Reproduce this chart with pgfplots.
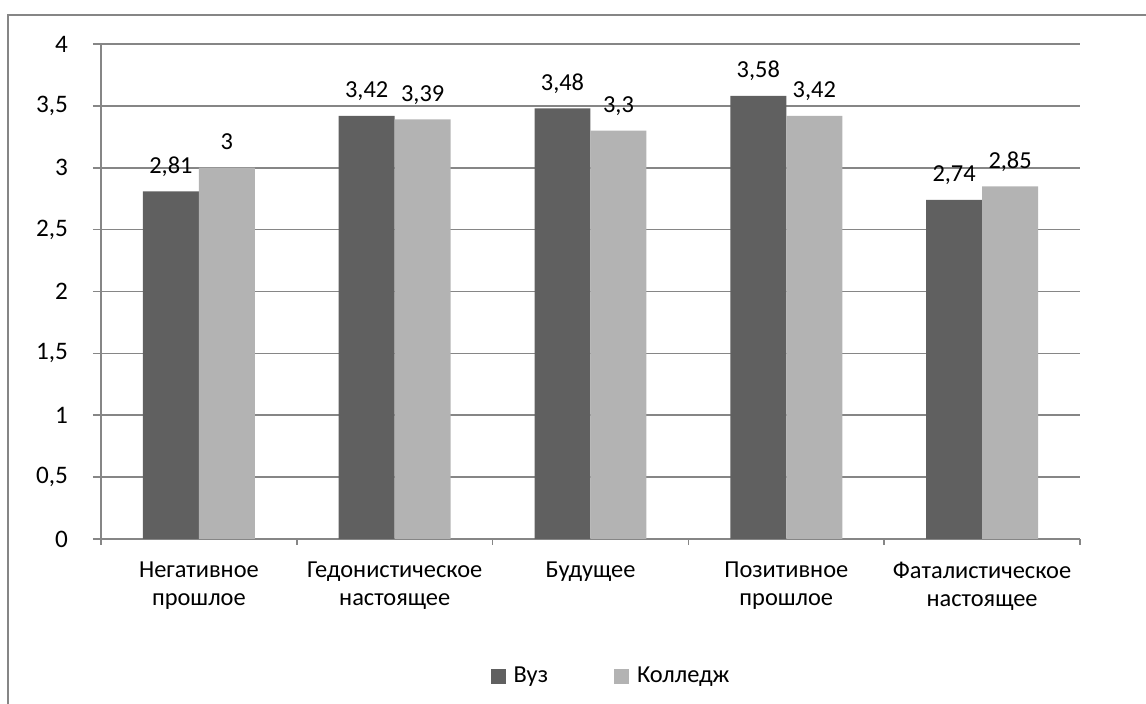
\documentclass[border=0pt]{standalone}
\usepackage{fontspec}
\setmainfont{Carlito}
\usepackage{pgfplots}
\pgfplotsset{compat=1.18}

\definecolor{vuz}{HTML}{606060}
\definecolor{kol}{HTML}{B3B3B3}
\definecolor{gridc}{HTML}{868686}
\newcommand\chartfont{\fontsize{12.2}{14}\selectfont}

\begin{document}
\begin{tikzpicture}
\useasboundingbox (0,0) rectangle (573pt,352pt);
% chart frame (only top and left edges are visible)
\draw[gridc, line width=0.8pt] (4pt,0) -- (4pt,344.5pt) -- (573pt,344.5pt);

\begin{axis}[
    at={(50.5pt,82.5pt)}, anchor=south west,
    scale only axis,
    width=489.5pt, height=247.5pt,
    ybar=0pt, bar width=0.286,
    xmin=-0.5, xmax=4.5,
    ymin=0, ymax=4,
    ytick={0,0.5,...,4},
    xtick={0,...,4},
    xticklabels={{Негативное\\прошлое},{Гедонистическое\\настоящее},{Будущее},{Позитивное\\прошлое},{Фаталистическое\\настоящее}},
    minor xtick={-0.5,0.5,1.5,2.5,3.5,4.5},
    major x tick style={draw=none},
    minor x tick style={draw=gridc, line width=0.8pt},
    minor tick length=3pt,
    major tick length=4pt,
    tick align=outside,
    axis lines*=left,
    axis line style={draw=gridc, line width=0.8pt},
    ytick style={draw=gridc, line width=0.8pt},
    ymajorgrids,
    grid style={draw=gridc, line width=0.8pt},
    /pgf/number format/use comma,
    /pgf/number format/assume math mode=true,
    tick label style={font=\chartfont, text=black},
    yticklabel={\fontsize{12.6}{14}\selectfont\pgfmathprintnumber{\tick}},
    yticklabel style={xshift=-9pt},
    xticklabel style={align=center, yshift=-4pt},
    nodes near coords={\chartfont\pgfmathprintnumber{\pgfplotspointmeta}},
    every node near coord/.append style={font=\chartfont, text=black, anchor=base, yshift=9pt},
    legend columns=2,
    legend style={at={(0.522,-0.277)}, anchor=center, draw=none, font=\chartfont,
        /tikz/every odd column/.append style={column sep=2pt},
        /tikz/every even column/.append style={column sep=31pt}},
    legend image code/.code={\fill[#1, draw=none] (0pt,-3.75pt) rectangle (7.5pt,3.75pt);},
]
\addplot[fill=vuz, draw=none] coordinates {(0,2.81) (1,3.42) (2,3.48) (3,3.58) (4,2.74)};
\addlegendentry{Вуз}
\addplot[fill=kol, draw=none] coordinates {(0,3) (1,3.39) (2,3.3) (3,3.42) (4,2.85)};
\addlegendentry{Колледж}
\end{axis}
\end{tikzpicture}
\end{document}
